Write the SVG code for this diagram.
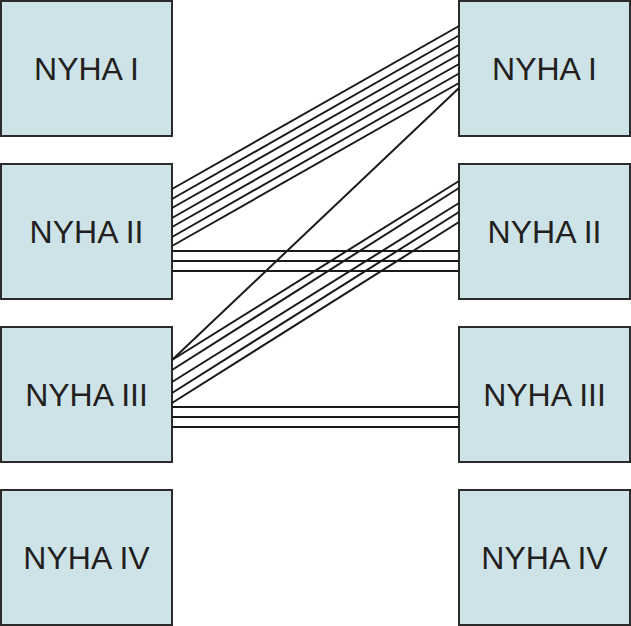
<svg xmlns="http://www.w3.org/2000/svg" width="631" height="626" viewBox="0 0 631 626">
<style>
.box{fill:#cde3e7;stroke:#2b2b2b;stroke-width:2}
.lbl{font-family:"Liberation Sans",Arial,sans-serif;font-size:32px;fill:#231f20;text-anchor:middle}
.c line{stroke:#1a1a1a;stroke-width:2}
</style>
<rect width="631" height="626" fill="#fff"/>
<g id="L1"><rect class="box" x="1" y="1" width="171" height="135"/><text class="lbl" x="86.5" y="80">NYHA I</text></g>
<g id="L2"><rect class="box" x="1" y="164" width="171" height="135"/><text class="lbl" x="86.5" y="243">NYHA II</text></g>
<g id="L3"><rect class="box" x="1" y="327" width="171" height="135"/><text class="lbl" x="86.5" y="406">NYHA III</text></g>
<g id="L4"><rect class="box" x="1" y="490" width="171" height="135"/><text class="lbl" x="86.5" y="569">NYHA IV</text></g>
<g id="R1"><rect class="box" x="459" y="1" width="171" height="135"/><text class="lbl" x="544.5" y="80">NYHA I</text></g>
<g id="R2"><rect class="box" x="459" y="164" width="171" height="135"/><text class="lbl" x="544.5" y="243">NYHA II</text></g>
<g id="R3"><rect class="box" x="459" y="327" width="171" height="135"/><text class="lbl" x="544.5" y="406">NYHA III</text></g>
<g id="R4"><rect class="box" x="459" y="490" width="171" height="135"/><text class="lbl" x="544.5" y="569">NYHA IV</text></g>
<g id="connectors" class="c">
<line x1="172" y1="189" x2="459" y2="26"/>
<line x1="172" y1="199" x2="459" y2="35.5"/>
<line x1="172" y1="208" x2="459" y2="45"/>
<line x1="172" y1="218" x2="459" y2="54.5"/>
<line x1="172" y1="227" x2="459" y2="64"/>
<line x1="172" y1="237" x2="459" y2="73.5"/>
<line x1="172" y1="246" x2="459" y2="83"/>
<line x1="172" y1="251" x2="459" y2="251"/>
<line x1="172" y1="261" x2="459" y2="261"/>
<line x1="172" y1="271" x2="459" y2="271"/>
<line x1="172" y1="360" x2="459" y2="88"/>
<line x1="172" y1="360" x2="459" y2="181"/>
<line x1="172" y1="370" x2="459" y2="188"/>
<line x1="172" y1="382" x2="459" y2="203"/>
<line x1="172" y1="393" x2="459" y2="212"/>
<line x1="172" y1="403" x2="459" y2="222"/>
<line x1="172" y1="407" x2="459" y2="407"/>
<line x1="172" y1="417" x2="459" y2="417"/>
<line x1="172" y1="427" x2="459" y2="427"/>
</g>
</svg>
